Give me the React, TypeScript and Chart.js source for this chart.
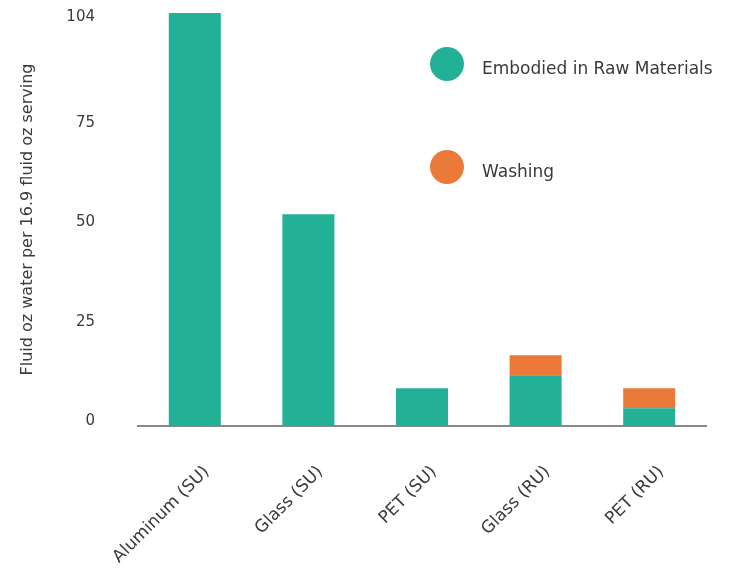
import React, { useEffect, useRef } from "react";
import { Chart, registerables } from "chart.js";

Chart.register(...registerables);

const categories = ["Aluminum (SU)", "Glass (SU)", "PET (SU)", "Glass (RU)", "PET (RU)"];
const embodied = [104, 53.3, 9.5, 12.8, 4.5];
const washing = [0, 0, 0, 5, 5];
const yTicks = [0, 25, 50, 75, 104];
const seriesNames = ["Embodied in Raw Materials", "Washing"];
const seriesColors = ["#22B196", "#EB7A3A"];

const FONT = "'DejaVu Sans', sans-serif";

const legendPlugin = {
  id: "circleLegend",
  afterDraw(chart: any) {
    const { ctx, chartArea } = chart;
    ctx.save();
    chart.data.datasets.forEach((ds: any, i: number) => {
      const cx = chartArea.right - 259;
      const cy = chartArea.top + 51 + i * 103;
      ctx.beginPath();
      ctx.arc(cx, cy, 17, 0, Math.PI * 2);
      ctx.fillStyle = ds.backgroundColor;
      ctx.fill();
      ctx.fillStyle = "#3a3a3a";
      ctx.font = `17px ${FONT}`;
      ctx.textBaseline = "middle";
      ctx.textAlign = "left";
      ctx.fillText(ds.label, cx + 35, cy + 6);
    });
    ctx.restore();
  },
};

export default function App() {
  const ref = useRef<HTMLCanvasElement>(null);
  useEffect(() => {
    if (!ref.current) return;
    const chart = new Chart(ref.current, {
      type: "bar",
      data: {
        labels: categories,
        datasets: [
          { label: seriesNames[0], data: embodied, backgroundColor: seriesColors[0], barPercentage: 0.458, categoryPercentage: 1 },
          { label: seriesNames[1], data: washing, backgroundColor: seriesColors[1], barPercentage: 0.458, categoryPercentage: 1 },
        ],
      },
      options: {
        animation: false,
        responsive: false,
        layout: { padding: { top: 13, right: 25, left: 0, bottom: 0 } },
        plugins: { legend: { display: false }, tooltip: { enabled: false } },
        scales: {
          x: {
            stacked: true,
            grid: { display: false, drawTicks: false },
            border: { display: true, color: "#888", width: 2 },
            ticks: {
              color: "#3a3a3a",
              font: { family: FONT, size: 17 },
              minRotation: 45,
              maxRotation: 45,
              padding: 36,
              labelOffset: 12,
            },
            afterFit(scale: any) {
              scale.height = 143;
            },
          },
          y: {
            stacked: true,
            min: 0,
            max: 104,
            grid: { display: false, drawTicks: false },
            border: { display: false },
            afterBuildTicks(scale: any) {
              scale.ticks = yTicks.map((v) => ({ value: v }));
            },
            ticks: {
              color: "#3a3a3a",
              font: { family: FONT, size: 15 },
              padding: 43,
              labelOffset: -5,
              callback: (v: any) => (v === yTicks[yTicks.length - 1] ? ["", String(v)] : String(v)),
            },
            title: {
              display: true,
              text: "Fluid oz water per 16.9 fluid oz serving",
              color: "#3a3a3a",
              font: { family: FONT, size: 16 },
              padding: { top: 18, bottom: 0 },
            },
            afterFit(scale: any) {
              scale.width = 138;
              scale.paddingTop = 0;
              scale.paddingBottom = 0;
            },
          },
        },
      },
      plugins: [legendPlugin],
    });
    return () => chart.destroy();
  }, []);
  return (
    <div style={{ position: "absolute", left: 0, top: 0, width: 731, height: 569 }}>
      <canvas ref={ref} width={731} height={569} style={{ display: "block" }} />
    </div>
  );
}
